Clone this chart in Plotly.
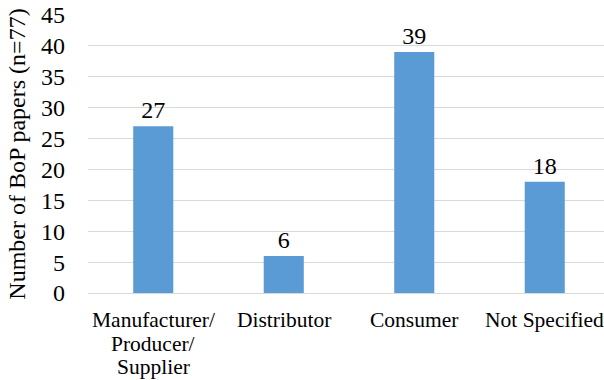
import plotly.graph_objects as go

categories = ["Manufacturer/<br>Producer/<br>Supplier", "Distributor", "Consumer", "Not Specified"]
values = [27, 6, 39, 18]
y_ticks = [0, 5, 10, 15, 20, 25, 30, 35, 40, 45]
y_title = "Number of BoP papers (n=77)"

font_family = "Liberation Serif"

fig = go.Figure(go.Bar(
    x=list(range(len(categories))),
    y=values,
    width=0.307,
    marker=dict(color="#5B9BD5", line=dict(color="#5B9BD5", width=0)),
    text=[str(v) for v in values],
    textposition="outside",
    cliponaxis=False,
    textfont=dict(family=font_family, size=24, color="#000000"),
))

# Category labels drawn line by line (tighter line spacing than Plotly's default)
for i, cat in enumerate(categories):
    for k, line in enumerate(cat.split("<br>")):
        fig.add_annotation(
            x=i, y=0, xref="x", yref="y",
            text=line, showarrow=False,
            xanchor="center", yanchor="middle",
            yshift=-(27 + 23.5 * k),
            font=dict(family=font_family, size=21.5, color="#000000"),
        )

fig.update_layout(
    width=604, height=380,
    margin=dict(l=88, r=0, t=15, b=87),
    paper_bgcolor="white", plot_bgcolor="white",
    showlegend=False,
    font=dict(family=font_family, color="#000000"),
    xaxis=dict(
        tickmode="array",
        tickvals=list(range(len(categories))),
        ticktext=categories,
        showticklabels=False,
        range=[-0.5, 3.454],
        showgrid=False,
        showline=False,
        zeroline=False,
        automargin=False,
        ticks="",
    ),
    yaxis=dict(
        range=[0, 45],
        tickmode="array",
        tickvals=y_ticks,
        showgrid=True,
        gridcolor="#D9D9D9",
        gridwidth=1,
        zeroline=True,
        zerolinecolor="#D9D9D9",
        zerolinewidth=1,
        showline=False,
        automargin=False,
        ticklabeloverflow="allow",
        ticks="",
        ticklabelstandoff=22,
        tickfont=dict(family=font_family, size=24, color="#000000"),
        title=dict(text=y_title, font=dict(family=font_family, size=24, color="#000000"), standoff=8),
    ),
)

fig.write_html("out.html")
